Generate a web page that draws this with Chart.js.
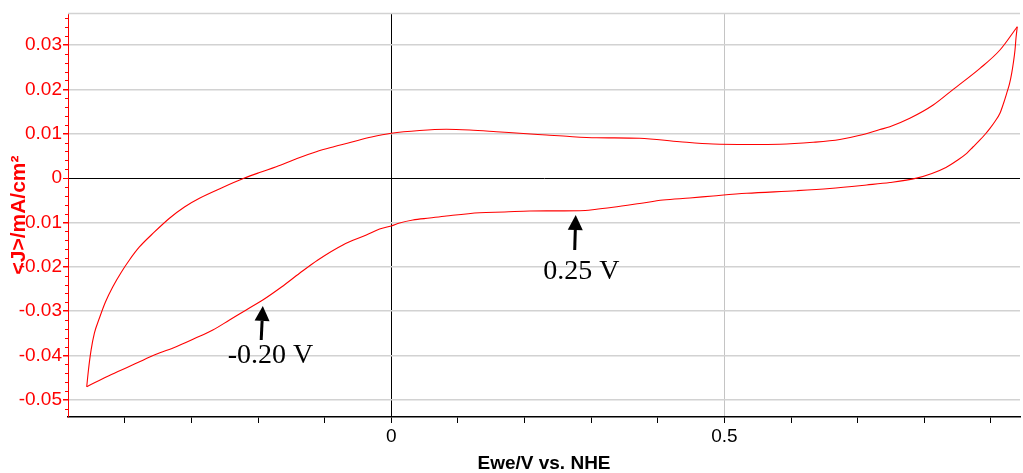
<!DOCTYPE html>
<html>
<head>
<meta charset="utf-8">
<script src="https://cdn.jsdelivr.net/npm/chart.js@4"></script>
<style>
  html, body { margin: 0; padding: 0; background: #fff; }
</style>
</head>
<body>
<canvas id="cv" width="1023" height="473"></canvas>
<script>
// forward (anodic) sweep, left vertex -> right vertex
const upperV = [-0.4572, -0.4546, -0.4506, -0.4456, -0.4381, -0.4291, -0.4182, -0.4051, -0.3931, -0.3781,
  -0.3555, -0.3330, -0.3105, -0.2880, -0.2549, -0.2204, -0.1978, -0.1727, -0.1452, -0.1126,
  -0.0851, -0.0577, -0.0296, 0.0000, 0.0425, 0.0826, 0.1176, 0.1577, 0.1927, 0.2328,
  0.2678, 0.3079, 0.3729, 0.4330, 0.4830, 0.5381, 0.5832, 0.6332, 0.6733, 0.7034,
  0.7334, 0.7483, 0.7783, 0.8134, 0.8435, 0.8836, 0.9136, 0.9396];
const upperJ = [-0.04701, -0.04324, -0.03873, -0.03490, -0.03153, -0.02792, -0.02454, -0.02116, -0.01845, -0.01552,
  -0.01214, -0.00905, -0.00651, -0.00455, -0.00223, 0.00000, 0.00126, 0.00257, 0.00419, 0.00595,
  0.00712, 0.00820, 0.00926, 0.01010, 0.01073, 0.01100, 0.01084, 0.01046, 0.01010, 0.00971,
  0.00937, 0.00910, 0.00897, 0.00820, 0.00768, 0.00757, 0.00762, 0.00807, 0.00870, 0.00965,
  0.01095, 0.01158, 0.01348, 0.01647, 0.02001, 0.02474, 0.02887, 0.03412];

// reverse (cathodic) sweep, right vertex -> left vertex
const lowerV = [0.9396, 0.9377, 0.9362, 0.9339, 0.9312, 0.9279, 0.9237, 0.9189, 0.9136, 0.9061,
  0.8986, 0.8911, 0.8836, 0.8731, 0.8637, 0.8491, 0.8325, 0.8115, 0.7885, 0.7484,
  0.7134, 0.6583, 0.6082, 0.5332, 0.4830, 0.4480, 0.4079, 0.3729, 0.3328, 0.3054,
  0.2829, 0.2453, 0.2077, 0.1702, 0.1326, 0.0826, 0.0575, 0.0324, 0.0125, 0.0000,
  -0.0176, -0.0375, -0.0727, -0.1102, -0.1377, -0.1648, -0.1929, -0.2178, -0.2429, -0.2679,
  -0.2954, -0.3229, -0.3540, -0.3830, -0.4201, -0.4572];
const lowerJ = [0.03412, 0.03157, 0.02887, 0.02616, 0.02362, 0.02121, 0.01911, 0.01681, 0.01460, 0.01276,
  0.01122, 0.00983, 0.00859, 0.00701, 0.00559, 0.00397, 0.00239, 0.00104, 0.00000, -0.00099,
  -0.00155, -0.00234, -0.00284, -0.00343, -0.00403, -0.00448, -0.00494, -0.00572, -0.00658, -0.00708,
  -0.00735, -0.00739, -0.00741, -0.00764, -0.00780, -0.00854, -0.00899, -0.00944, -0.01012, -0.01079,
  -0.01147, -0.01282, -0.01508, -0.01846, -0.02145, -0.02454, -0.02747, -0.02971, -0.03198, -0.03423,
  -0.03615, -0.03799, -0.03975, -0.04174, -0.04426, -0.04701];

const xTicks = [-0.4, -0.3, -0.2, -0.1, 0, 0.1, 0.2, 0.3, 0.4, 0.5, 0.6, 0.7, 0.8, 0.9];
const xTickLabels = { '0': '0', '0.5': '0.5' };
const yTicks = [0.03, 0.02, 0.01, 0, -0.01, -0.02, -0.03, -0.04, -0.05];
const yTickLabels = ['0.03', '0.02', '0.01', '0', '-0.01', '-0.02', '-0.03', '-0.04', '-0.05'];
const yMinorTicks = [0.036, 0.034, 0.032, 0.028, 0.026, 0.024, 0.022, 0.018, 0.016, 0.014, 0.012,
  0.008, 0.006, 0.004, 0.002, -0.002, -0.004, -0.006, -0.008, -0.012, -0.014, -0.016, -0.018,
  -0.022, -0.024, -0.026, -0.028, -0.032, -0.034, -0.036, -0.038, -0.042, -0.044, -0.046, -0.048, -0.052];

// arrow tip / tail and label centre, in data units
const notes = [
  { text: '-0.20 V', tipV: -0.1929, tipJ: -0.02882, tailV: -0.1953, tailJ: -0.03648, textV: -0.1813, textJ: -0.04009 },
  { text: '0.25 V', tipV: 0.2768, tipJ: -0.00832, tailV: 0.2753, tailJ: -0.01620, textV: 0.2854, textJ: -0.02109 }
];

// monotone spline wants increasing x, so each branch is fed in ascending order
const toPts = (xs, ys) => xs.map((v, i) => ({ x: v, y: ys[i] })).sort((a, b) => a.x - b.x);
const near = (a, b) => Math.abs(a - b) < 1e-9;

const extras = {
  id: 'extras',
  afterDraw(chart) {
    const { ctx, chartArea: a, scales: { x, y } } = chart;
    ctx.save();
    // top frame line
    ctx.strokeStyle = '#d2d2d2';
    ctx.lineWidth = 1.5;
    ctx.beginPath();
    ctx.moveTo(a.left, a.top + 0.5);
    ctx.lineTo(a.right, a.top + 0.5);
    ctx.stroke();
    // minor ticks on the J axis
    ctx.strokeStyle = '#ff0000';
    ctx.lineWidth = 1;
    ctx.beginPath();
    yMinorTicks.forEach(v => {
      const py = Math.round(y.getPixelForValue(v)) + 0.5;
      ctx.moveTo(a.left - 3, py);
      ctx.lineTo(a.left, py);
    });
    ctx.stroke();
    // y title (sits over the tick labels like the original)
    ctx.translate(19, (a.top + a.bottom) / 2);
    ctx.rotate(-Math.PI / 2);
    ctx.fillStyle = '#ff0000';
    ctx.font = 'bold 21px "Liberation Sans", Arial, sans-serif';
    ctx.textAlign = 'center';
    ctx.textBaseline = 'middle';
    ctx.fillText('<J>/mA/cm²', 0, 0);
    ctx.restore();

    // annotations
    ctx.save();
    ctx.fillStyle = '#000';
    ctx.strokeStyle = '#000';
    notes.forEach(n => {
      const tx = x.getPixelForValue(n.tipV), ty = y.getPixelForValue(n.tipJ);
      const bx = x.getPixelForValue(n.tailV), by = y.getPixelForValue(n.tailJ);
      const ang = Math.atan2(ty - by, tx - bx);
      const headLen = 15, headW = 7.5;
      const hx = tx - headLen * Math.cos(ang), hy = ty - headLen * Math.sin(ang);
      ctx.lineWidth = 3;
      ctx.beginPath();
      ctx.moveTo(bx, by);
      ctx.lineTo(hx, hy);
      ctx.stroke();
      ctx.beginPath();
      ctx.moveTo(tx, ty);
      ctx.lineTo(hx + headW * Math.sin(ang), hy - headW * Math.cos(ang));
      ctx.lineTo(hx - headW * Math.sin(ang), hy + headW * Math.cos(ang));
      ctx.closePath();
      ctx.fill();
      ctx.font = '28px "Liberation Serif", "Times New Roman", serif';
      ctx.textAlign = 'center';
      ctx.textBaseline = 'middle';
      ctx.fillText(n.text, x.getPixelForValue(n.textV), y.getPixelForValue(n.textJ));
    });
    ctx.restore();
  }
};

new Chart(document.getElementById('cv'), {
  type: 'scatter',
  data: {
    datasets: [
      { data: toPts(upperV, upperJ) },
      { data: toPts(lowerV, lowerJ) }
    ]
  },
  options: {
    responsive: false,
    animation: false,
    devicePixelRatio: 1,
    layout: { padding: { top: 13, right: 3, left: 0, bottom: 0 } },
    elements: {
      line: { borderColor: '#ff0000', borderWidth: 1.1, cubicInterpolationMode: 'monotone', fill: false },
      point: { radius: 0 }
    },
    datasets: { scatter: { showLine: true } },
    plugins: { legend: { display: false }, tooltip: { enabled: false } },
    scales: {
      x: {
        type: 'linear',
        min: -0.4853,
        max: 0.9437,
        afterBuildTicks: s => { s.ticks = xTicks.map(v => ({ value: v })); },
        afterFit: s => { s.height = 56; },
        ticks: {
          autoSkip: false,
          maxRotation: 0,
          padding: 2,
          color: '#000',
          font: { family: '"Liberation Sans", Arial, sans-serif', size: 19 },
          callback: v => {
            const k = Object.keys(xTickLabels).find(key => near(Number(key), v));
            return k !== undefined ? xTickLabels[k] : '';
          }
        },
        grid: {
          color: c => near(c.tick.value, 0) ? '#000' : (near(c.tick.value, 0.5) ? '#c4c4c4' : 'rgba(0,0,0,0)'),
          lineWidth: 1,
          tickColor: '#000',
          tickLength: 6
        },
        border: { color: '#000', width: 1.5 },
        title: {
          display: true,
          text: 'Ewe/V vs. NHE',
          color: '#000',
          padding: { top: 0, bottom: -2 },
          font: { family: '"Liberation Sans", Arial, sans-serif', size: 19, weight: 'bold' }
        }
      },
      y: {
        type: 'linear',
        position: 'left',
        min: -0.05384,
        max: 0.03721,
        afterBuildTicks: s => { s.ticks = yTicks.map(v => ({ value: v })); },
        afterFit: s => { s.width = 68; },
        ticks: {
          autoSkip: false,
          padding: 1,
          color: '#ff0000',
          font: { family: '"Liberation Sans", Arial, sans-serif', size: 19 },
          callback: (v, i) => yTickLabels[i]
        },
        grid: {
          color: c => near(c.tick.value, 0) ? '#000' : '#d2d2d2',
          lineWidth: c => near(c.tick.value, 0) ? 1 : 1.5,
          tickColor: '#ff0000',
          tickLength: 5
        },
        border: { color: '#ff0000', width: 1 }
      }
    }
  },
  plugins: [extras]
});
</script>
</body>
</html>
